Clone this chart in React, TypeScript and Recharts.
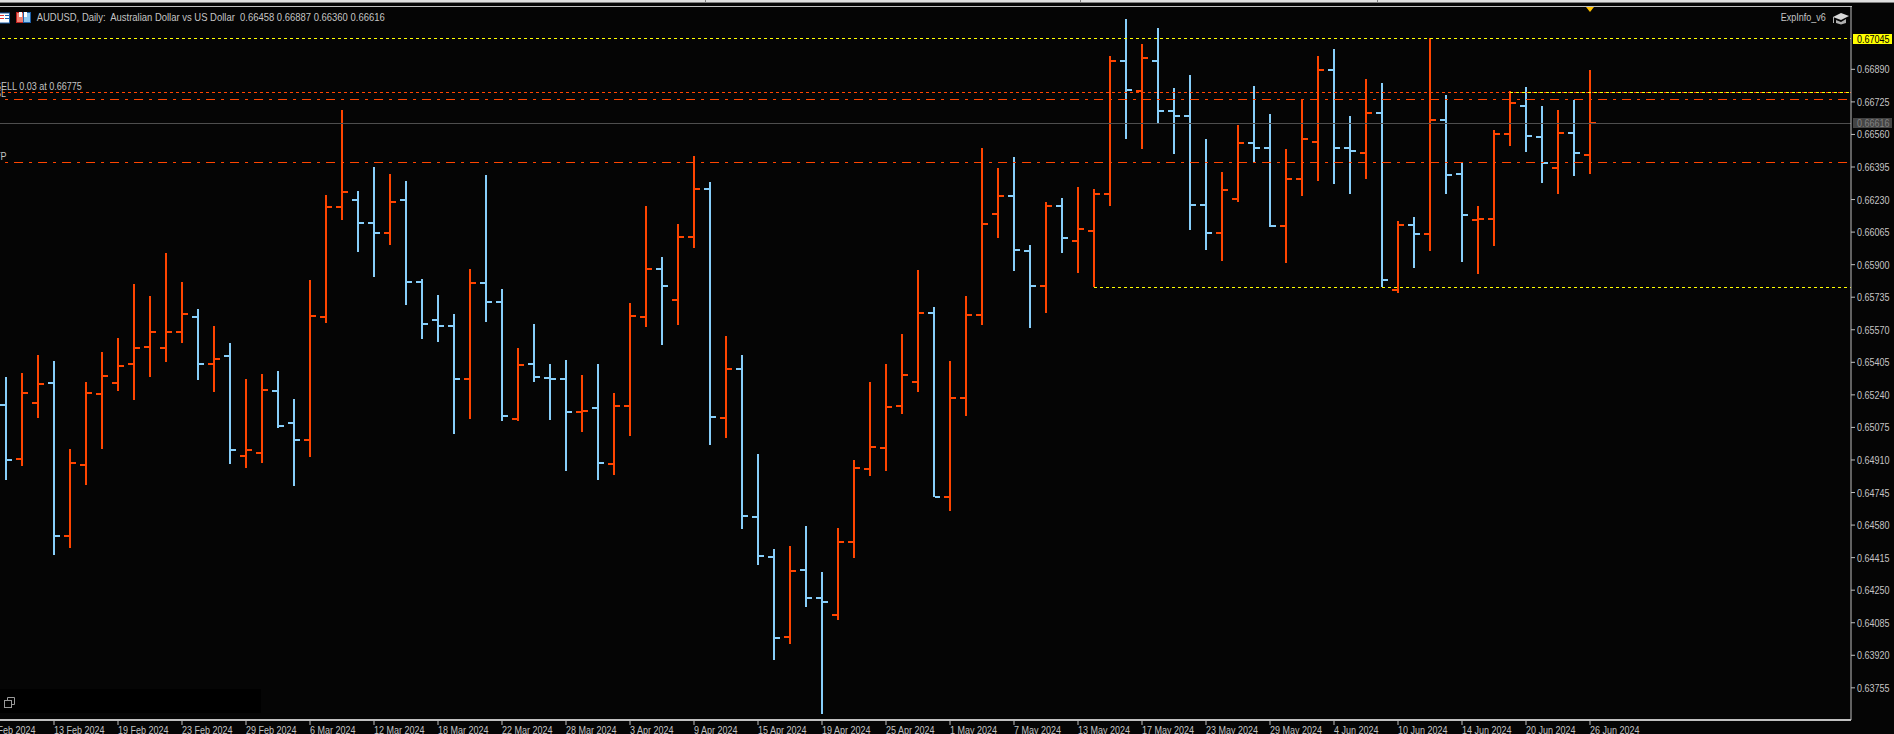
import { Bar, ComposedChart, ReferenceLine, XAxis, YAxis } from 'recharts';

const opens = [
  0.6519, 0.64915, 0.65199, 0.653, 0.64525, 0.64886, 0.65244, 0.653, 0.65396, 0.65482,
  0.65477, 0.65558, 0.65635, 0.65396, 0.65437, 0.64932, 0.64945, 0.65261, 0.65097, 0.65011,
  0.65636, 0.66194, 0.66228, 0.66113, 0.6606, 0.66228, 0.65812, 0.65619, 0.65589, 0.6532,
  0.65809, 0.65711, 0.65117, 0.65396, 0.65325, 0.6532, 0.65153, 0.65173, 0.64889, 0.65183,
  0.65636, 0.65878, 0.65721, 0.6604, 0.66283, 0.65123, 0.65371, 0.64621, 0.64418, 0.64013,
  0.64352, 0.6421, 0.64124, 0.64494, 0.64864, 0.64971, 0.65183, 0.65305, 0.65655, 0.64722,
  0.65224, 0.65645, 0.66157, 0.66248, 0.65969, 0.65792, 0.66197, 0.6602, 0.66071, 0.66258,
  0.66932, 0.6678, 0.66932, 0.66679, 0.66653, 0.66202, 0.6606, 0.66233, 0.66517, 0.66491,
  0.66096, 0.66334, 0.66522, 0.66887, 0.66491, 0.66466, 0.66669, 0.65771, 0.66101, 0.66055,
  0.66633, 0.66359, 0.66126, 0.66131, 0.66562, 0.66704, 0.66547, 0.6639, 0.66567, 0.66458,
];
const highs = [
  0.65329, 0.65349, 0.65442, 0.65412, 0.64965, 0.65303, 0.65457, 0.65526, 0.65802, 0.65741,
  0.65957, 0.6581, 0.65673, 0.65587, 0.65501, 0.6532, 0.65346, 0.65359, 0.65217, 0.65822,
  0.66251, 0.66684, 0.66273, 0.66395, 0.66359, 0.66324, 0.65825, 0.65746, 0.6565, 0.65878,
  0.66354, 0.65775, 0.65476, 0.65599, 0.65396, 0.65417, 0.65341, 0.65396, 0.65248, 0.65706,
  0.66197, 0.65939, 0.66106, 0.66451, 0.66319, 0.65538, 0.65442, 0.6494, 0.64459, 0.64474,
  0.64575, 0.64342, 0.64565, 0.6491, 0.65305, 0.65396, 0.65548, 0.65873, 0.65685, 0.65412,
  0.65741, 0.66491, 0.6639, 0.66446, 0.66, 0.66218, 0.66238, 0.66294, 0.66283, 0.66958,
  0.67145, 0.67018, 0.671, 0.66795, 0.66861, 0.66537, 0.6637, 0.66608, 0.66806, 0.66664,
  0.66486, 0.6674, 0.66958, 0.66993, 0.66653, 0.66841, 0.66821, 0.66121, 0.66141, 0.67047,
  0.6676, 0.6642, 0.66197, 0.66583, 0.6678, 0.668, 0.66704, 0.66684, 0.66735, 0.66887,
];
const lows = [
  0.64805, 0.64876, 0.65124, 0.6443, 0.64465, 0.6478, 0.64967, 0.65256, 0.65216, 0.65332,
  0.65403, 0.65499, 0.65312, 0.65251, 0.64886, 0.64871, 0.64896, 0.65069, 0.64775, 0.64927,
  0.65601, 0.66126, 0.65966, 0.65839, 0.66, 0.65697, 0.6552, 0.6551, 0.65043, 0.65117,
  0.65611, 0.65104, 0.65104, 0.65307, 0.65114, 0.64856, 0.65053, 0.6481, 0.6483, 0.65033,
  0.65586, 0.65494, 0.65594, 0.65986, 0.64987, 0.65023, 0.64562, 0.64379, 0.63898, 0.63979,
  0.64166, 0.63622, 0.641, 0.64415, 0.6483, 0.64856, 0.65145, 0.65256, 0.64722, 0.64653,
  0.65134, 0.65594, 0.66035, 0.65868, 0.65579, 0.65655, 0.65959, 0.65858, 0.65785, 0.66197,
  0.66537, 0.66486, 0.66618, 0.66461, 0.66076, 0.65974, 0.65918, 0.66218, 0.66419, 0.66093,
  0.65908, 0.66248, 0.66324, 0.66309, 0.66258, 0.66334, 0.65787, 0.65756, 0.65883, 0.65969,
  0.66258, 0.65913, 0.65853, 0.65995, 0.66501, 0.66471, 0.66314, 0.66258, 0.66349, 0.6636,
];
const closes = [
  0.6491, 0.65249, 0.65295, 0.64525, 0.64895, 0.65249, 0.65335, 0.65386, 0.65477, 0.65558,
  0.65558, 0.6565, 0.65396, 0.65422, 0.6496, 0.6496, 0.65266, 0.65082, 0.65011, 0.65641,
  0.66194, 0.66268, 0.66113, 0.6606, 0.66218, 0.65812, 0.65601, 0.65589, 0.6532, 0.65809,
  0.65711, 0.65133, 0.65391, 0.6533, 0.6532, 0.65153, 0.65158, 0.64895, 0.65183, 0.65641,
  0.65878, 0.65792, 0.6604, 0.66283, 0.65128, 0.65371, 0.64626, 0.64423, 0.64007, 0.64347,
  0.6421, 0.6419, 0.64494, 0.64869, 0.64976, 0.65178, 0.65341, 0.65655, 0.64722, 0.65224,
  0.65645, 0.66106, 0.66248, 0.65974, 0.65792, 0.66197, 0.66035, 0.66081, 0.66258, 0.66932,
  0.66785, 0.66947, 0.66679, 0.66653, 0.66202, 0.6606, 0.66278, 0.66517, 0.66491, 0.66096,
  0.66334, 0.66537, 0.66887, 0.66491, 0.66476, 0.66669, 0.65822, 0.66101, 0.66055, 0.66633,
  0.66354, 0.66152, 0.66131, 0.66562, 0.66719, 0.66552, 0.66415, 0.66567, 0.66466, 0.66616,
];

const dateLabels = [
  '7 Feb 2024', '13 Feb 2024', '19 Feb 2024', '23 Feb 2024', '29 Feb 2024', '6 Mar 2024',
  '12 Mar 2024', '18 Mar 2024', '22 Mar 2024', '28 Mar 2024', '3 Apr 2024', '9 Apr 2024',
  '15 Apr 2024', '19 Apr 2024', '25 Apr 2024', '1 May 2024', '7 May 2024', '13 May 2024',
  '17 May 2024', '23 May 2024', '29 May 2024', '4 Jun 2024', '10 Jun 2024', '14 Jun 2024',
  '20 Jun 2024', '26 Jun 2024',
];
// one label every 4 bars, the first sits just off the left edge
const dateTicks = dateLabels.map((_, n) => -1 + n * 4);

const priceTicks = [
  0.6689, 0.66725, 0.6656, 0.66395, 0.6623, 0.66065, 0.659, 0.65735, 0.6557, 0.65405, 0.6524,
  0.65075, 0.6491, 0.64745, 0.6458, 0.64415, 0.6425, 0.64085, 0.6392, 0.63755,
];

const highLevel = 0.67045;
const lowLevel = 0.65785;
const entryPrice = 0.66775;
const stopPrice = 0.66738;
const takePrice = 0.66419;
const lastPrice = 0.66616;

const BG = '#050505';
const UP = '#ff4500';
const DOWN = '#87cefa';
const YELLOW = '#ffff00';
const AXIS = '#c0c0c0';
const TEXT = '#c4c4c4';
const FONT = '"Liberation Sans", sans-serif';
const NARROW = 0.82; // the terminal's font is much narrower than Liberation

const X_START = -2.375;
const X_END = 115.3125;

const rows = opens.map((open, i) => ({
  index: i,
  open,
  high: highs[i],
  low: lows[i],
  close: closes[i],
  range: [lows[i], highs[i]],
}));

function Label({ x, y, fill = TEXT, children }: any) {
  return (
    <text
      transform={`translate(${x} ${y}) scale(${NARROW} 1)`}
      fontSize={11}
      fontFamily={FONT}
      fill={fill}
    >
      {children}
    </text>
  );
}

function OhlcBar(props: any) {
  const { x, y, width, height, payload } = props;
  const { open, high, low, close } = payload;
  const cx = Math.round(x + width / 2);
  const top = Math.round(y);
  const yOf = (p: number) => Math.round(y + ((high - p) / (high - low)) * height);
  const color = close >= open ? UP : DOWN;
  return (
    <g fill={color}>
      <rect x={cx - 1} y={top} width={2} height={Math.round(height)} />
      <rect x={cx - 6} y={yOf(open) - 1} width={5} height={2} />
      <rect x={cx + 1} y={yOf(close) - 1} width={5} height={2} />
    </g>
  );
}

// horizontal levels are 1px wide, keep them on a pixel row
function CrispLine({ x1, x2, y1, stroke, strokeDasharray }: any) {
  const y = Math.floor(y1) + 0.5;
  return <line x1={x1} x2={x2} y1={y} y2={y} stroke={stroke} strokeDasharray={strokeDasharray} />;
}

function PriceTick({ x, y, payload }: any) {
  const v = payload.value;
  const label = v.toFixed(5);
  if (v === highLevel || v === lastPrice) {
    const isHigh = v === highLevel;
    return (
      <g>
        <rect
          x={x + 2}
          y={Math.round(y) - 5}
          width={39}
          height={10}
          fill={isHigh ? YELLOW : '#444444'}
        />
        <Label x={x + 6} y={y + 4} fill={isHigh ? '#000' : '#808080'}>
          {label}
        </Label>
      </g>
    );
  }
  return (
    <g>
      <line x1={x} x2={x + 4} y1={y} y2={y} stroke={AXIS} />
      <Label x={x + 6} y={y + 4}>
        {label}
      </Label>
    </g>
  );
}

function DateTick({ x, y, payload }: any) {
  const label = dateLabels[dateTicks.indexOf(payload.value)];
  return (
    <g>
      <line x1={x} x2={x} y1={y} y2={y + 5} stroke={AXIS} />
      <Label x={x} y={y + 14}>
        {label}
      </Label>
    </g>
  );
}

function Decorations() {
  return (
    <svg
      width={1894}
      height={734}
      style={{ position: 'absolute', left: 0, top: 0, pointerEvents: 'none' }}
    >
      {/* window chrome on top */}
      <rect x={0} y={0} width={1894} height={2} fill="#e0e0e0" />
      <rect x={0} y={2} width={1894} height={1} fill="#808080" />
      <rect x={705} y={0} width={1} height={2} fill="#808080" />
      <rect x={1080} y={0} width={1} height={2} fill="#808080" />
      <rect x={1377} y={0} width={1} height={2} fill="#808080" />
      <rect x={0} y={6} width={1852} height={1} fill={AXIS} />

      {/* chart toolbar icons */}
      <rect x={-3} y={13} width={12.5} height={10} fill="#fff" stroke="#1c5fa8" />
      <rect x={-2} y={15} width={6} height={1} fill="#e03030" />
      <rect x={-2} y={18} width={6} height={1} fill="#e03030" />
      <rect x={5} y={15} width={4} height={1} fill="#1c5fa8" />
      <rect x={5} y={18} width={4} height={1} fill="#1c5fa8" />
      <rect x={16.5} y={12.5} width={7} height={10} fill="#f08070" stroke="#c02020" />
      <rect x={23.5} y={12.5} width={7} height={10} fill="#90c8f0" stroke="#1c5fa8" />
      <rect x={19} y={12} width={3} height={5} fill="#fff" />
      <rect x={24} y={12} width={3} height={5} fill="#fff" />

      <text
        x={36.7}
        y={21}
        fontSize={11}
        fontFamily={FONT}
        fill={TEXT}
        textLength={348}
        lengthAdjust="spacingAndGlyphs"
        style={{ whiteSpace: 'pre' }}
      >
        {'AUDUSD, Daily:  Australian Dollar vs US Dollar  0.66458 0.66887 0.66360 0.66616'}
      </text>
      <Label x={1780.7} y={21}>ExpInfo_v6</Label>

      {/* cap icon */}
      <polygon points="1833,17 1841,13 1849,16 1841,20" fill="#d8d8d8" />
      <polygon points="1836,20 1841,22 1846,19 1846,23 1841,24.5 1836,23" fill="#b0b0b0" />
      <rect x={1833} y={17} width={1} height={6} fill="#b0b0b0" />

      {/* new-bar marker */}
      <polygon points="1586,7 1594,7 1590,12" fill="#ffc000" />

      {/* order labels, cut by the left edge */}
      <Label x={-5} y={90}>SELL 0.03 at 0.66775</Label>
      <Label x={-5} y={97}>SL</Label>
      <Label x={-5} y={160}>TP</Label>

      {/* bottom left panel */}
      <rect x={0} y={689} width={261} height={24} fill="#000" />
      <rect x={4.5} y={700.5} width={7} height={7} fill="none" stroke="#9a9a9a" />
      <path d="M7.5 700 V697.5 H14.5 V704.5 H12" fill="none" stroke="#9a9a9a" />
    </svg>
  );
}

export default function App() {
  return (
    <div
      style={{
        position: 'absolute',
        left: 0,
        top: 0,
        width: 1894,
        height: 734,
        overflow: 'hidden',
        background: BG,
      }}
    >
      <div style={{ position: 'absolute', left: -32, top: 0 }}>
        <ComposedChart
          width={1926}
          height={734}
          data={rows}
          margin={{ top: 7, right: 0, bottom: 0, left: 0 }}
          barSize={2}
        >
          <XAxis
            dataKey="index"
            type="number"
            domain={[X_START, X_END]}
            allowDataOverflow
            ticks={dateTicks}
            interval={0}
            height={14}
            stroke={AXIS}
            strokeWidth={2}
            tickLine={false}
            tickSize={0}
            tickMargin={0}
            tick={<DateTick />}
          />
          <YAxis
            orientation="right"
            type="number"
            domain={[0.63592, 0.67206]}
            allowDataOverflow
            ticks={[...priceTicks, highLevel, lastPrice]}
            interval={0}
            width={43}
            stroke={AXIS}
            tickLine={false}
            tickSize={0}
            tickMargin={0}
            tick={<PriceTick />}
          />
          <ReferenceLine
            segment={[{ x: -0.25, y: highLevel }, { x: X_END, y: highLevel }]}
            stroke={YELLOW}
            strokeDasharray="3 3"
            shape={<CrispLine />}
          />
          <ReferenceLine
            segment={[{ x: -0.25, y: entryPrice }, { x: X_END, y: entryPrice }]}
            stroke={UP}
            strokeDasharray="3 3"
            shape={<CrispLine />}
          />
          <ReferenceLine
            segment={[{ x: 94, y: entryPrice }, { x: X_END, y: entryPrice }]}
            stroke={YELLOW}
            strokeDasharray="3 3"
            shape={<CrispLine />}
          />
          <ReferenceLine
            segment={[{ x: -0.06, y: stopPrice }, { x: 115.1, y: stopPrice }]}
            stroke={UP}
            strokeDasharray="3 6 9 6"
            shape={<CrispLine />}
          />
          <ReferenceLine
            segment={[{ x: X_START, y: lastPrice }, { x: X_END, y: lastPrice }]}
            stroke="#4e4e4e"
            shape={<CrispLine />}
          />
          <ReferenceLine
            segment={[{ x: -0.06, y: takePrice }, { x: 115.1, y: takePrice }]}
            stroke={UP}
            strokeDasharray="3 6 9 6"
            shape={<CrispLine />}
          />
          <ReferenceLine
            segment={[{ x: 68, y: lowLevel }, { x: X_END, y: lowLevel }]}
            stroke={YELLOW}
            strokeDasharray="3 3"
            shape={<CrispLine />}
          />
          <Bar dataKey="range" shape={<OhlcBar />} isAnimationActive={false} />
        </ComposedChart>
      </div>
      <Decorations />
    </div>
  );
}
